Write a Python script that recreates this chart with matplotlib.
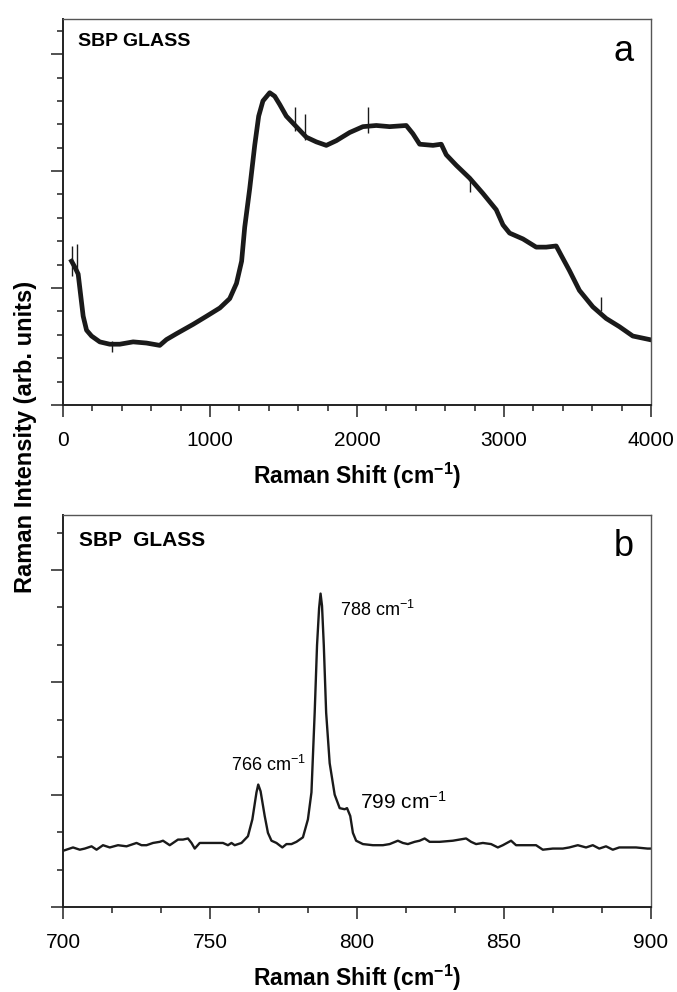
import numpy as np
import matplotlib
matplotlib.use("Agg")
import matplotlib.pyplot as plt
from matplotlib.ticker import MultipleLocator, NullFormatter

plt.rcParams["font.family"] = ["Liberation Sans", "DejaVu Sans"]
plt.rcParams["mathtext.fontset"] = "custom"
plt.rcParams["mathtext.rm"] = "Liberation Sans"
plt.rcParams["mathtext.it"] = "Liberation Sans"
plt.rcParams["mathtext.bf"] = "Liberation Sans:bold"

# panel a: broad spectrum 0-4000 cm-1 (arb. units)
shift_a = [58, 80, 103, 119, 137, 160, 194, 250, 318, 386, 477, 568, 658, 704,
           772, 885, 977, 1067, 1134, 1180, 1215, 1236, 1270, 1304, 1331, 1360,
           1406, 1440, 1474, 1519, 1587, 1655, 1723, 1791, 1859, 1950, 2040,
           2131, 2222, 2335, 2380, 2426, 2517, 2573, 2607, 2675, 2766, 2856,
           2947, 2993, 3038, 3129, 3219, 3287, 3355, 3389, 3445, 3513, 3604,
           3695, 3785, 3876, 3989]
int_a = [1.23, 1.18, 1.12, 0.95, 0.76, 0.64, 0.59, 0.54, 0.52, 0.52, 0.54, 0.53,
         0.51, 0.56, 0.61, 0.69, 0.76, 0.83, 0.91, 1.04, 1.23, 1.52, 1.85, 2.22,
         2.47, 2.60, 2.67, 2.64, 2.57, 2.47, 2.38, 2.29, 2.25, 2.22, 2.26, 2.33,
         2.38, 2.39, 2.38, 2.39, 2.32, 2.23, 2.22, 2.23, 2.14, 2.05, 1.94, 1.81,
         1.67, 1.54, 1.47, 1.42, 1.35, 1.35, 1.36, 1.28, 1.15, 0.98, 0.84, 0.74,
         0.67, 0.59, 0.56]
# isolated noise spikes on the broad spectrum
spike_x = [60, 92, 330, 1576, 1644, 2075, 2766, 3662]
spike_lo = [1.10, 1.15, 0.45, 2.34, 2.27, 2.33, 1.82, 0.80]
spike_hi = [1.36, 1.38, 0.55, 2.55, 2.49, 2.55, 1.95, 0.92]

# panel b: 700-900 cm-1 detail
shift_b = [700.0, 703.4, 705.7, 707.4, 709.7, 711.4, 713.6, 715.9, 718.7, 721.6,
           725.0, 726.7, 728.4, 730.6, 732.9, 734.0, 736.3, 739.1, 740.8, 742.5,
           743.7, 744.8, 746.5, 748.8, 752.2, 754.4, 756.1, 757.3, 758.4, 760.7,
           762.9, 764.4, 765.8, 766.4, 767.2, 768.6, 769.7, 770.9, 772.6, 774.6,
           776.0, 777.7, 779.4, 781.6, 783.3, 784.5, 785.6, 786.4, 787.1, 787.6,
           788.1, 788.7, 789.5, 790.7, 792.4, 794.1, 795.8, 796.6, 797.7, 798.6,
           799.7, 802.0, 805.4, 808.8, 811.1, 813.9, 815.6, 817.3, 819.6, 821.3,
           823.0, 824.7, 828.1, 832.6, 837.1, 838.8, 840.5, 842.8, 845.6, 847.9,
           849.6, 852.4, 854.1, 857.5, 860.9, 863.2, 866.6, 870.0, 872.2, 875.1,
           877.9, 880.2, 882.4, 884.7, 887.0, 889.2, 891.5, 894.9, 898.8, 900.0]
int_b = [0.50, 0.53, 0.51, 0.52, 0.54, 0.51, 0.55, 0.53, 0.55, 0.54,
         0.57, 0.55, 0.55, 0.57, 0.58, 0.59, 0.55, 0.60, 0.60, 0.61,
         0.57, 0.52, 0.57, 0.57, 0.57, 0.57, 0.55, 0.57, 0.55, 0.57,
         0.63, 0.78, 1.02, 1.09, 1.03, 0.81, 0.66, 0.59, 0.57, 0.53,
         0.56, 0.56, 0.58, 0.62, 0.78, 1.02, 1.73, 2.33, 2.66, 2.79,
         2.68, 2.33, 1.73, 1.28, 1.00, 0.88, 0.87, 0.88, 0.81, 0.66,
         0.59, 0.56, 0.55, 0.55, 0.56, 0.59, 0.57, 0.56, 0.58, 0.59,
         0.61, 0.58, 0.58, 0.59, 0.61, 0.58, 0.56, 0.57, 0.56, 0.53,
         0.55, 0.59, 0.55, 0.55, 0.55, 0.51, 0.52, 0.52, 0.53, 0.55,
         0.53, 0.55, 0.52, 0.54, 0.51, 0.53, 0.53, 0.53, 0.52, 0.52]

peak_labels = ["766", "788", "799"]
peak_x = [757.3, 794.1, 800.9]
peak_y = [1.26, 2.64, 0.94]
peak_size = [13, 13, 15]

fig = plt.figure(figsize=(6.77, 9.92), dpi=100)
ax_a = fig.add_axes([0.0931, 0.5917, 0.8685, 0.3891])
ax_b = fig.add_axes([0.0931, 0.0857, 0.8685, 0.3952])


def style(ax, xmaj, xmin, ymaj, ymin):
    for s in ["top", "right"]:
        ax.spines[s].set_color("#555555")
        ax.spines[s].set_linewidth(1.0)
    for s in ["left", "bottom"]:
        ax.spines[s].set_color("#222222")
        ax.spines[s].set_linewidth(1.4)
    ax.xaxis.set_major_locator(MultipleLocator(xmaj))
    ax.xaxis.set_minor_locator(MultipleLocator(xmin))
    ax.yaxis.set_major_locator(MultipleLocator(ymaj))
    ax.yaxis.set_minor_locator(MultipleLocator(ymin))
    ax.yaxis.set_major_formatter(NullFormatter())
    ax.tick_params(which="both", direction="out", top=False, right=False,
                   color="#222222", width=1.1)
    ax.tick_params(which="major", length=8.5, labelsize=15, pad=10)
    ax.tick_params(which="minor", length=4.5)
    ax.set_xlabel(r"Raman Shift (cm$^{\mathregular{-1}}$)", fontsize=16.5,
                  fontweight="bold", labelpad=8)


ax_a.plot(shift_a, int_a, color="#1a1a1a", lw=3.4, solid_joinstyle="round")
ax_a.vlines(spike_x, spike_lo, spike_hi, color="#1a1a1a", lw=1.0)
ax_a.set_xlim(0, 4000)
ax_a.set_ylim(0, 3.3)
style(ax_a, 1000, 200, 1, 0.2)
ax_a.text(0.025, 0.965, "SBP GLASS", transform=ax_a.transAxes, fontsize=14,
          fontweight="bold", ha="left", va="top")
ax_a.text(0.97, 0.96, "a", transform=ax_a.transAxes, fontsize=26,
          ha="right", va="top")

ax_b.plot(shift_b, int_b, color="#1a1a1a", lw=1.7, solid_joinstyle="round")
ax_b.set_xlim(700, 900)
ax_b.set_ylim(0, 3.49)
style(ax_b, 50, 50 / 3, 1, 1 / 3)
ax_b.text(0.028, 0.96, "SBP  GLASS", transform=ax_b.transAxes, fontsize=15,
          fontweight="bold", ha="left", va="top")
ax_b.text(0.97, 0.965, "b", transform=ax_b.transAxes, fontsize=26,
          ha="right", va="top")
for lab, x, y, fs in zip(peak_labels, peak_x, peak_y, peak_size):
    ax_b.text(x, y, lab + r" cm$^{\mathregular{-1}}$", fontsize=fs,
              ha="left", va="center")

fig.text(0.038, 0.56, "Raman Intensity (arb. units)", rotation=90,
         fontsize=17, fontweight="bold", ha="center", va="center")

fig.savefig("out.png", dpi=100)
